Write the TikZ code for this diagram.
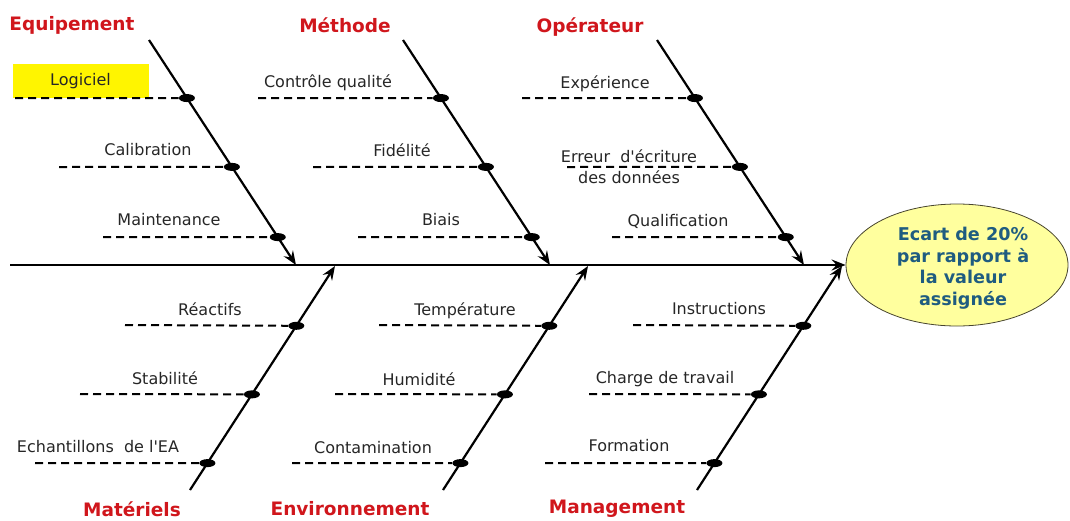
\documentclass[tikz,border=0pt]{standalone}
\usepackage{fontspec}
\setmainfont{DejaVu Sans}[Ligatures=TeXReset]
\usetikzlibrary{arrows.meta,shapes.geometric,calc}
\definecolor{catred}{HTML}{D0161C}
\definecolor{effblue}{HTML}{1F5C80}
\definecolor{effyellow}{HTML}{FFFF9E}
\definecolor{hlyellow}{HTML}{FFF500}
\definecolor{txt}{HTML}{262626}
\begin{document}
\begin{tikzpicture}[x=1pt,y=-1pt,
  bone/.style={line width=2.2pt,-{Stealth[length=14pt,width=11pt,inset=5pt]}},
  spine/.style={line width=2.6pt,-{Stealth[length=14pt,width=11pt,inset=5pt]}},
  sub/.style={line width=2pt,dash pattern=on 8pt off 5pt},
  dot/.style={ellipse,fill=black,minimum width=16pt,minimum height=8pt,inner sep=0pt},
  lbl/.style={font=\fontsize{16}{21}\selectfont,text=txt,inner sep=0pt,align=center},
  cat/.style={font=\bfseries\fontsize{18.5}{22}\selectfont,text=catred,inner sep=0pt},
  efftxt/.style={font=\bfseries\fontsize{17.6}{21.5}\selectfont,text=effblue,align=center,inner sep=0pt}
]
\useasboundingbox (0,0) rectangle (1070,520);

% effect
\node[ellipse,draw=black!65!olive,line width=0.8pt,fill=effyellow,minimum width=222pt,minimum height=122pt,inner sep=0pt] (effect) at (957,265) {};
\node[efftxt] (efftext) at (963,268) {Ecart de 20\%\\par rapport à\\la valeur\\assignée};

% spine
\coordinate (spS) at (10,265);
\draw[spine] (spS) -- (effect.west);

% category labels
\node[cat] (cEq) at (72,25) {Equipement};
\node[cat] (cMe) at (345,25) {Méthode};
\node[cat] (cOp) at (590,27) {Opérateur};
\node[cat] (cMa) at (132,509) {Matériels};
\node[cat] (cEn) at (350,509) {Environnement};
\node[cat] (cMg) at (617,509) {Management};

% ---------- Equipement ----------
\coordinate (eqS) at (149,40); \coordinate (eqT) at (296,265);
\draw[bone] (eqS) -- (eqT);
\node[dot] (eq1) at ($(eqS)!0.258!(eqT)$) {};
\node[dot] (eq2) at ($(eqS)!0.564!(eqT)$) {};
\node[dot] (eq3) at ($(eqS)!0.876!(eqT)$) {};
\node[lbl,fill=hlyellow,minimum width=136pt,minimum height=34pt] (lLog) at (80.5,81) {Logiciel};
\coordinate (eq1L) at (15,98); \coordinate (eq2L) at (59,167); \coordinate (eq3L) at (103,237);
\draw[sub] (eq1L) -- (eq1);
\draw[sub] (eq2L) -- (eq2);
\draw[sub] (eq3L) -- (eq3);
\node[lbl] (lCal) at (148,150) {Calibration};
\node[lbl] (lMai) at (169,220) {Maintenance};

% ---------- Methode ----------
\coordinate (meS) at (403,40); \coordinate (meT) at (550,265);
\draw[bone] (meS) -- (meT);
\node[dot] (me1) at ($(meS)!0.258!(meT)$) {};
\node[dot] (me2) at ($(meS)!0.564!(meT)$) {};
\node[dot] (me3) at ($(meS)!0.876!(meT)$) {};
\coordinate (me1L) at (258,98); \coordinate (me2L) at (313,167); \coordinate (me3L) at (358,237);
\draw[sub] (me1L) -- (me1);
\draw[sub] (me2L) -- (me2);
\draw[sub] (me3L) -- (me3);
\node[lbl] (lCon) at (328,83) {Contrôle qualité};
\node[lbl] (lFid) at (402,150) {Fidélité};
\node[lbl] (lBia) at (441,220) {Biais};

% ---------- Operateur ----------
\coordinate (opS) at (657,40); \coordinate (opT) at (804,265);
\draw[bone] (opS) -- (opT);
\node[dot] (op1) at ($(opS)!0.258!(opT)$) {};
\node[dot] (op2) at ($(opS)!0.564!(opT)$) {};
\node[dot] (op3) at ($(opS)!0.876!(opT)$) {};
\coordinate (op1L) at (522,98); \coordinate (op2L) at (567,167); \coordinate (op3L) at (612,237);
\draw[sub] (op1L) -- (op1);
\draw[sub] (op2L) -- (op2);
\draw[sub] (op3L) -- (op3);
\node[lbl] (lExp) at (605,84) {Expérience};
\node[lbl] (lErr) at (629,167) {Erreur\ \ d'écriture\\des données};
\node[lbl] (lQua) at (678,221) {Qualification};

% ---------- Materiels ----------
\coordinate (maS) at (190,490); \coordinate (maT) at (335,266);
\draw[bone] (maS) -- (maT);
\node[dot] (ma1) at ($(maS)!0.733!(maT)$) {};
\node[dot] (ma2) at ($(maS)!0.427!(maT)$) {};
\node[dot] (ma3) at ($(maS)!0.120!(maT)$) {};
\coordinate (ma1L) at (125,325); \coordinate (ma2L) at (80,394); \coordinate (ma3L) at (35,463);
\draw[sub] (ma1L) -- (ma1);
\draw[sub] (ma2L) -- (ma2);
\draw[sub] (ma3L) -- (ma3);
\node[lbl] (lRea) at (210,309) {Réactifs};
\node[lbl] (lSta) at (165,378) {Stabilité};
\node[lbl] (lEch) at (98,447) {Echantillons\ \ de l'EA};

% ---------- Environnement ----------
\coordinate (enS) at (443,490); \coordinate (enT) at (588,266);
\draw[bone] (enS) -- (enT);
\node[dot] (en1) at ($(enS)!0.733!(enT)$) {};
\node[dot] (en2) at ($(enS)!0.427!(enT)$) {};
\node[dot] (en3) at ($(enS)!0.120!(enT)$) {};
\coordinate (en1L) at (379,325); \coordinate (en2L) at (335,394); \coordinate (en3L) at (292,463);
\draw[sub] (en1L) -- (en1);
\draw[sub] (en2L) -- (en2);
\draw[sub] (en3L) -- (en3);
\node[lbl] (lTem) at (465,311) {Température};
\node[lbl] (lHum) at (419,379) {Humidité};
\node[lbl] (lCtm) at (373,448) {Contamination};

% ---------- Management ----------
\coordinate (mgS) at (697,490); \coordinate (mgT) at (842,266);
\draw[bone] (mgS) -- (mgT);
\node[dot] (mg1) at ($(mgS)!0.733!(mgT)$) {};
\node[dot] (mg2) at ($(mgS)!0.427!(mgT)$) {};
\node[dot] (mg3) at ($(mgS)!0.120!(mgT)$) {};
\coordinate (mg1L) at (633,325); \coordinate (mg2L) at (589,394); \coordinate (mg3L) at (545,463);
\draw[sub] (mg1L) -- (mg1);
\draw[sub] (mg2L) -- (mg2);
\draw[sub] (mg3L) -- (mg3);
\node[lbl] (lIns) at (719,309) {Instructions};
\node[lbl] (lCha) at (665,379) {Charge de travail};
\node[lbl] (lFor) at (629,446) {Formation};
\end{tikzpicture}
\end{document}
